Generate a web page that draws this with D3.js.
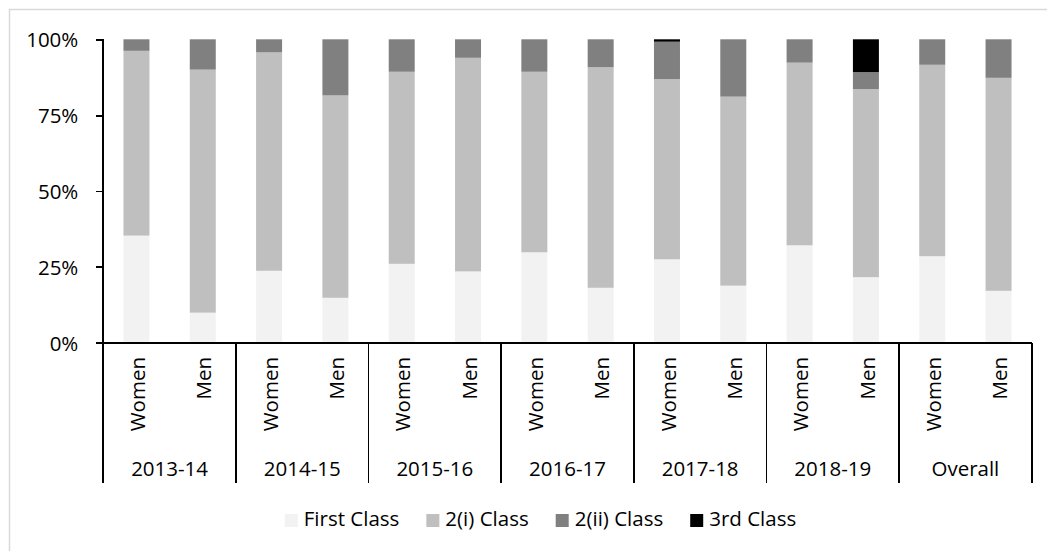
<!DOCTYPE html>
<html>
  <head>
    <title>Degree classes by year and gender</title>
    <style type="text/css">
        body{
            margin: 0;
            background: #ffffff;
        }
        svg text{
            font-family: "Open Sans", "Liberation Sans", sans-serif;
            font-size: 20.5px;
            fill: #000000;
        }
        .axis-line{
            stroke: #000000;
            stroke-width: 1.75px;
            shape-rendering: crispEdges;
        }
    </style>
  </head>
  <body>
    <div id="chart"></div>

    <script src="https://cdn.jsdelivr.net/npm/d3@7"></script>
    <script>

        //  Data (share of each class, in %)
        var years = ['2013-14', '2014-15', '2015-16', '2016-17', '2017-18', '2018-19', 'Overall'];
        var genders = ['Women', 'Men'];
        var classNames = ['First Class', '2(i) Class', '2(ii) Class', '3rd Class'];
        var classColors = ['#f2f2f2', '#bfbfbf', '#808080', '#000000'];

        var firstClass  = [35.3, 9.9, 23.7, 14.8, 26.0, 23.5, 29.8, 18.1, 27.5, 18.8, 32.1, 21.6, 28.5, 17.1];
        var upperSecond = [60.9, 80.1, 72.0, 66.7, 63.3, 70.4, 59.5, 72.7, 59.4, 62.3, 60.2, 62.0, 63.1, 70.2];
        var lowerSecond = [3.8, 10.0, 4.3, 18.5, 10.7, 6.1, 10.7, 9.2, 12.3, 18.9, 7.7, 5.6, 8.4, 12.7];
        var thirdClass  = [0, 0, 0, 0, 0, 0, 0, 0, 0.8, 0, 0, 10.8, 0, 0];
        var yTicks = [0, 0.25, 0.5, 0.75, 1];

        var width = 1047, height = 551;
        var plotLeft = 103.3, plotRight = 1031.7, plotTop = 39.3, plotBase = 342.7, axisBottom = 483;
        var legendCentre = 540.5;

        var svg = d3.select('#chart').append('svg')
            .attr('width', width)
            .attr('height', height);

        //  Light chart border
        svg.append('rect')
            .attr('x', 9.5).attr('y', 9.5)
            .attr('width', 1050).attr('height', 550)
            .attr('fill', 'none')
            .attr('stroke', '#d9d9d9')
            .attr('stroke-width', 1.5);

        //  One row per bar: year / gender with the four class shares
        var rows = [];
        years.forEach(function (yr, yi) {
            genders.forEach(function (g, gi) {
                var i = yi * 2 + gi;
                rows.push({
                    id: i, year: yr, gender: g,
                    'First Class': firstClass[i] / 100,
                    '2(i) Class': upperSecond[i] / 100,
                    '2(ii) Class': lowerSecond[i] / 100,
                    '3rd Class': thirdClass[i] / 100
                });
            });
        });

        var x = d3.scaleBand()
            .domain(rows.map((d) => d.id))
            .range([plotLeft, plotRight])
            .paddingInner(0.608)
            .paddingOuter(0.304);

        var xGroup = d3.scaleBand()
            .domain(years)
            .range([plotLeft, plotRight]);

        var y = d3.scaleLinear()
            .domain([0, 1])
            .range([plotBase, plotTop]);

        var color = d3.scaleOrdinal().domain(classNames).range(classColors);

        var stacked = d3.stack().keys(classNames)(rows);

        //  Bars
        svg.append('g').attr('class', 'bars')
            .selectAll('g')
            .data(stacked)
            .enter().append('g')
                .attr('fill', (d) => color(d.key))
            .selectAll('rect')
            .data((d) => d)
            .enter().append('rect')
                .attr('x', (d) => x(d.data.id))
                .attr('width', x.bandwidth())
                .attr('y', (d) => y(d[1]))
                .attr('height', (d) => y(d[0]) - y(d[1]));

        //  Y axis
        var yAxis = svg.append('g')
            .attr('transform', 'translate(' + plotLeft + ',0)')
            .call(d3.axisLeft(y).tickValues(yTicks).tickFormat(d3.format('.0%')).tickSize(7).tickPadding(18));
        yAxis.select('.domain').remove();
        yAxis.selectAll('.tick line').attr('class', 'axis-line');
        yAxis.attr('font-family', null).attr('font-size', null);
        yAxis.selectAll('.tick text')
            .attr('dy', '0.36em');

        svg.append('line').attr('class', 'axis-line')
            .attr('x1', plotLeft).attr('x2', plotLeft)
            .attr('y1', plotTop).attr('y2', axisBottom);

        //  Category axis: baseline plus group dividers
        svg.append('line').attr('class', 'axis-line')
            .attr('x1', plotLeft - 7).attr('x2', plotRight)
            .attr('y1', plotBase).attr('y2', plotBase);

        svg.append('g').selectAll('line')
            .data(years)
            .enter().append('line')
                .attr('class', 'axis-line')
                .attr('x1', (d) => xGroup(d) + xGroup.bandwidth())
                .attr('x2', (d) => xGroup(d) + xGroup.bandwidth())
                .attr('y1', plotBase).attr('y2', axisBottom);

        //  Gender labels, rotated
        svg.append('g').selectAll('text')
            .data(rows)
            .enter().append('text')
                .attr('transform', (d) => 'translate(' + (x(d.id) + x.bandwidth() / 2) + ',357) rotate(-90)')
                .attr('text-anchor', 'end')
                .attr('dy', '0.42em')
                .text((d) => d.gender);

        //  Year labels
        svg.append('g').selectAll('text')
            .data(years)
            .enter().append('text')
                .attr('x', (d) => xGroup(d) + xGroup.bandwidth() / 2)
                .attr('y', 476)
                .attr('text-anchor', 'middle')
                .text((d) => d);

        //  Legend, centred under the chart
        var legend = svg.append('g').attr('class', 'legend');
        var items = legend.selectAll('g')
            .data(classNames)
            .enter().append('g');
        items.append('rect')
            .attr('width', 13).attr('height', 13)
            .attr('y', 514)
            .attr('fill', (d) => color(d));
        items.append('text')
            .attr('x', 19)
            .attr('y', 526)
            .text((d) => d);

        var offset = 0;
        var offsets = [];
        items.each(function () {
            offsets.push(offset);
            offset += this.getBBox().width + 27;
        });
        var total = offset - 27;
        var start = legendCentre - total / 2;
        items.attr('transform', (d, i) => 'translate(' + (start + offsets[i]) + ',0)');

    </script>
  </body>
</html>
